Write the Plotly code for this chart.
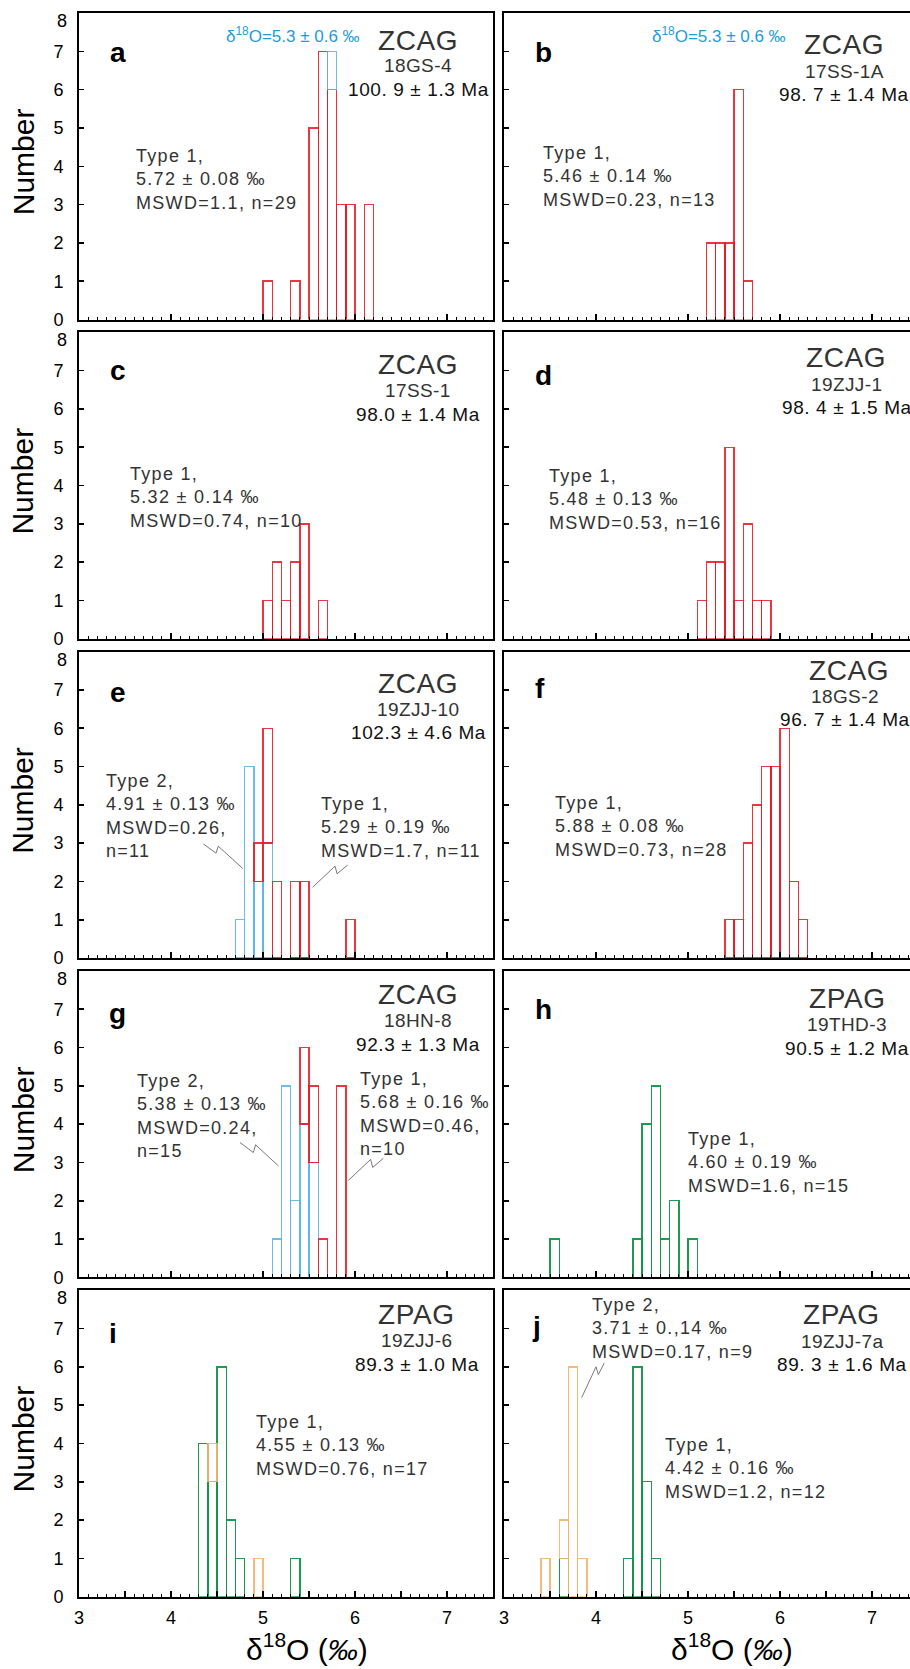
import plotly.graph_objects as go

# ---------------- data (bin start in per-mil, count per 0.1 bin) ----------------
A_T1_BINS = [5.0, 5.3, 5.5, 5.6, 5.7, 5.8, 5.9, 6.1]
A_T1_N = [1, 1, 5, 7, 6, 3, 3, 3]
A_X_BINS = [5.7]
A_X_N = [1]

B_T1_BINS = [5.2, 5.3, 5.4, 5.5, 5.6]
B_T1_N = [2, 2, 2, 6, 1]

C_T1_BINS = [5.0, 5.1, 5.2, 5.3, 5.4, 5.6]
C_T1_N = [1, 2, 1, 2, 3, 1]

D_T1_BINS = [5.1, 5.2, 5.3, 5.4, 5.5, 5.6, 5.7, 5.8]
D_T1_N = [1, 2, 2, 5, 1, 3, 1, 1]

E_T2_BINS = [4.7, 4.8, 4.9, 5.0]
E_T2_N = [1, 5, 2, 3]
E_T1_BINS = [4.9, 5.0, 5.1, 5.3, 5.4, 5.9]
E_T1_N = [1, 3, 2, 2, 2, 1]

F_T1_BINS = [5.4, 5.5, 5.6, 5.7, 5.8, 5.9, 6.0, 6.1, 6.2]
F_T1_N = [1, 1, 3, 4, 5, 5, 6, 2, 1]

G_T2_BINS = [5.1, 5.2, 5.3, 5.4, 5.5]
G_T2_N = [1, 5, 2, 4, 3]
G_T1_BINS = [5.4, 5.5, 5.6, 5.8]
G_T1_N = [2, 2, 1, 5]

H_T1_BINS = [3.5, 4.4, 4.5, 4.6, 4.7, 4.8, 5.0]
H_T1_N = [1, 1, 4, 5, 1, 2, 1]

I_T1_BINS = [4.3, 4.4, 4.5, 4.6, 4.7, 5.3]
I_T1_N = [4, 3, 6, 2, 1, 1]
I_T2_BINS = [4.4, 4.9]
I_T2_N = [1, 1]

J_T1_BINS = [3.6, 4.3, 4.4, 4.5, 4.6]
J_T1_N = [1, 1, 6, 3, 1]
J_T2_BINS = [3.4, 3.6, 3.7, 3.8]
J_T2_N = [1, 1, 6, 1]

BIN_W = 0.1
Y_TICKS = [0, 1, 2, 3, 4, 5, 6, 7, 8]
X_MAJOR = [3, 3.5, 4, 4.5, 5, 5.5, 6, 6.5, 7, 7.5]
X_LABELS = ["3", "", "4", "", "5", "", "6", "", "7", ""]

# ---------------- styles ----------------
RED = "rgba(232,26,36,0.88)"
BLUE = "rgba(92,182,234,0.9)"
GREEN = "rgba(18,150,72,0.95)"
ORANGE = "rgba(246,178,108,0.9)"
TXT = "#333333"
BLUE_TXT = "#1c9ce0"
FONT = "Arial, Liberation Sans, sans-serif"

W, H = 910, 1669
ML, MR, MT, MB = 79, 0, 13, 72
PW, PH = W - ML - MR, H - MT - MB
PITCH, PANEL_H = 319.3, 306.5
PX_PER_UNIT = 92.0
LEFT_COL = (79, 493)
RIGHT_COL = (504, 910)


def spaced(text, ls):
    return "<br>".join("<span style='letter-spacing:%spx'>%s</span>" % (ls, ln)
                       for ln in text.split("<br>"))


panels = [
    dict(letter="a", group="ZCAG", sample="18GS-4", age="100. 9 ± 1.3 Ma",
         series=[(A_T1_BINS, A_T1_N, RED), (A_X_BINS, A_X_N, BLUE)],
         let_pos=(3.42, 6.96), grp_pos=(6.685, 7.29), smp_pos=(6.69, 6.63), age_pos=(6.69, 6.0),
         blocks=[("Type 1,<br>5.72 ± 0.08 ‰<br>MSWD=1.1, n=29", 3.60, 3.65)],
         blue=(5.33, 7.43), leaders=[]),
    dict(letter="b", group="ZCAG", sample="17SS-1A", age="98. 7 ± 1.4 Ma",
         series=[(B_T1_BINS, B_T1_N, RED)],
         let_pos=(3.43, 6.96), grp_pos=(6.70, 7.17), smp_pos=(6.70, 6.48), age_pos=(6.70, 5.87),
         blocks=[("Type 1,<br>5.46 ± 0.14 ‰<br>MSWD=0.23, n=13", 3.40, 3.74)],
         blue=(5.34, 7.43), leaders=[]),
    dict(letter="c", group="ZCAG", sample="17SS-1", age="98.0 ± 1.4 Ma",
         series=[(C_T1_BINS, C_T1_N, RED)],
         let_pos=(3.42, 7.0), grp_pos=(6.685, 7.16), smp_pos=(6.685, 6.47), age_pos=(6.69, 5.86),
         blocks=[("Type 1,<br>5.32 ± 0.14 ‰<br>MSWD=0.74, n=10", 3.53, 3.68)],
         blue=None, leaders=[]),
    dict(letter="d", group="ZCAG", sample="19ZJJ-1", age="98. 4 ± 1.5 Ma",
         series=[(D_T1_BINS, D_T1_N, RED)],
         let_pos=(3.43, 6.86), grp_pos=(6.72, 7.33), smp_pos=(6.72, 6.64), age_pos=(6.73, 6.03),
         blocks=[("Type 1,<br>5.48 ± 0.13 ‰<br>MSWD=0.53, n=16", 3.47, 3.64)],
         blue=None, leaders=[]),
    dict(letter="e", group="ZCAG", sample="19ZJJ-10", age="102.3 ± 4.6 Ma",
         series=[(E_T2_BINS, E_T2_N, BLUE), (E_T1_BINS, E_T1_N, RED)],
         let_pos=(3.42, 6.94), grp_pos=(6.68, 7.18), smp_pos=(6.68, 6.50), age_pos=(6.69, 5.90),
         blocks=[("Type 2,<br>4.91 ± 0.13 ‰<br>MSWD=0.26,<br>n=11", 3.275, 3.72),
                 ("Type 1,<br>5.29 ± 0.19 ‰<br>MSWD=1.7, n=11", 5.61, 3.40)],
         blue=None,
         leaders=[[(4.351, 2.98), (4.489, 2.74), (4.514, 2.92), (4.779, 2.34)],
                  [(5.920, 2.43), (5.805, 2.20), (5.783, 2.40), (5.540, 1.85)]]),
    dict(letter="f", group="ZCAG", sample="18GS-2", age="96. 7 ± 1.4 Ma",
         series=[(F_T1_BINS, F_T1_N, RED)],
         let_pos=(3.39, 7.03), grp_pos=(6.75, 7.50), smp_pos=(6.71, 6.84), age_pos=(6.71, 6.22),
         blocks=[("Type 1,<br>5.88 ± 0.08 ‰<br>MSWD=0.73, n=28", 3.53, 3.44)],
         blue=None, leaders=[]),
    dict(letter="g", group="ZCAG", sample="18HN-8", age="92.3 ± 1.3 Ma",
         series=[(G_T2_BINS, G_T2_N, BLUE), (G_T1_BINS, G_T1_N, RED)],
         let_pos=(3.42, 6.90), grp_pos=(6.68, 7.39), smp_pos=(6.68, 6.70), age_pos=(6.68, 6.09),
         blocks=[("Type 2,<br>5.38 ± 0.13 ‰<br>MSWD=0.24,<br>n=15", 3.61, 4.20),
                 ("Type 1,<br>5.68 ± 0.16 ‰<br>MSWD=0.46,<br>n=10", 6.03, 4.26)],
         blue=None,
         leaders=[[(4.750, 3.52), (4.895, 3.26), (4.920, 3.46), (5.167, 2.91)],
                  [(6.308, 3.11), (6.192, 2.87), (6.170, 3.08), (5.927, 2.53)]]),
    dict(letter="h", group="ZPAG", sample="19THD-3", age="90.5 ± 1.2 Ma",
         series=[(H_T1_BINS, H_T1_N, GREEN)],
         let_pos=(3.43, 6.98), grp_pos=(6.73, 7.27), smp_pos=(6.73, 6.59), age_pos=(6.73, 5.98),
         blocks=[("Type 1,<br>4.60 ± 0.19 ‰<br>MSWD=1.6, n=15", 4.975, 3.0)],
         blue=None, leaders=[]),
    dict(letter="i", group="ZPAG", sample="19ZJJ-6", age="89.3 ± 1.0 Ma",
         series=[(I_T1_BINS, I_T1_N, GREEN), (I_T2_BINS, I_T2_N, ORANGE)],
         let_pos=(3.37, 6.87), grp_pos=(6.67, 7.37), smp_pos=(6.67, 6.69), age_pos=(6.67, 6.07),
         blocks=[("Type 1,<br>4.55 ± 0.13 ‰<br>MSWD=0.76, n=17", 4.90, 3.95)],
         blue=None, leaders=[]),
    dict(letter="j", group="ZPAG", sample="19ZJJ-7a", age="89. 3 ± 1.6 Ma",
         series=[(J_T1_BINS, J_T1_N, GREEN), (J_T2_BINS, J_T2_N, ORANGE)],
         let_pos=(3.355, 7.04), grp_pos=(6.67, 7.37), smp_pos=(6.67, 6.67), age_pos=(6.67, 6.06),
         blocks=[("Type 2,<br>3.71 ± 0.,14 ‰<br>MSWD=0.17, n=9", 3.935, 7.0),
                 ("Type 1,<br>4.42 ± 0.16 ‰<br>MSWD=1.2, n=12", 4.73, 3.34)],
         blue=None,
         leaders=[[(4.090, 6.10), (4.025, 5.80), (4.000, 6.00), (3.845, 5.20)]]),
]

fig = go.Figure()
layout = dict(
    width=W, height=H, margin=dict(l=ML, r=MR, t=MT, b=MB, pad=0),
    paper_bgcolor="white", plot_bgcolor="white", showlegend=False,
    barmode="stack", font=dict(family=FONT, color="black", size=18),
)
annotations = []
shapes = []

for p, pan in enumerate(panels):
    r, c = divmod(p, 2)
    sfx = "" if p == 0 else str(p + 1)
    xid, yid = "x" + sfx, "y" + sfx
    top = MT + r * PITCH
    bot = top + PANEL_H
    ydom = [max(0.0, 1 - (bot - MT) / PH), min(1.0, 1 - (top - MT) / PH)]
    col = LEFT_COL if c == 0 else RIGHT_COL
    xdom = [(col[0] - ML) / PW, min(1.0, (col[1] - ML) / PW)]
    xmax = 3 + (col[1] - col[0]) / PX_PER_UNIT
    bottom_row = (r == 4)

    layout["xaxis" + sfx] = dict(
        domain=xdom, anchor=yid, range=[3, xmax], showgrid=False, zeroline=False,
        showline=True, linecolor="black", linewidth=2, mirror=True,
        ticks="inside", ticklen=6, tickwidth=1.5, tickcolor="black",
        tickmode="array", tickvals=X_MAJOR, ticktext=X_LABELS,
        minor=dict(dtick=0.1, tick0=3, ticks="inside", ticklen=3, tickwidth=1,
                   tickcolor="black", showgrid=False),
        showticklabels=bottom_row,
        tickfont=dict(size=18, color="black", family=FONT),
        ticklabelstandoff=4, automargin=False,
    )
    layout["yaxis" + sfx] = dict(
        domain=ydom, anchor=xid, range=[0, 8], showgrid=False, zeroline=False,
        showline=True, linecolor="black", linewidth=2, mirror=(c == 0),
        ticks="inside", ticklen=5, tickwidth=1.5, tickcolor="black",
        tickmode="array", tickvals=Y_TICKS,
        ticktext=[("" if v == Y_TICKS[-1] else str(v)) for v in Y_TICKS],
        showticklabels=(c == 0), tickfont=dict(size=18, color="black", family=FONT),
        ticklabelstandoff=10, automargin=False,
    )

    for bins, counts, colr in pan["series"]:
        fig.add_trace(go.Bar(
            x=[round(b + BIN_W / 2, 3) for b in bins], y=counts, width=BIN_W,
            marker=dict(color="rgba(255,255,255,0)", line=dict(color=colr, width=1.4)),
            xaxis=xid, yaxis=yid, hoverinfo="skip",
        ))

    def ann(text, x, y, size, color=TXT, xanchor="center", bold=False, align="center", ls=0):
        t = ("<b>%s</b>" % text) if bold else text
        if ls:
            t = spaced(t, ls)
        annotations.append(dict(
            text=t, x=x, y=y, xref=xid, yref=yid,
            xanchor=xanchor, yanchor="middle", showarrow=False, align=align,
            font=dict(family=FONT, size=size, color=color),
        ))

    ann(pan["letter"], *pan["let_pos"], 28, color="black", bold=True)
    ann(pan["group"], *pan["grp_pos"], 28, ls=0.6)
    ann(pan["sample"], *pan["smp_pos"], 19, ls=0.4)
    ann(pan["age"], *pan["age_pos"], 19, color="#111111", ls=0.6)
    for text, bx, by in pan["blocks"]:
        ann(text, bx, by, 18, xanchor="left", align="left", ls=1.3)
    if pan["blue"]:
        ann("δ<sup>18</sup>O=5.3 ± 0.6 ‰", *pan["blue"], 17, color=BLUE_TXT)
    for pts in pan["leaders"]:
        path = "M " + " L ".join("%g %g" % pt for pt in pts)
        shapes.append(dict(type="path", path=path, xref=xid, yref=yid,
                           line=dict(color="#555555", width=0.8)))

    if c == 0:
        # top "8" tick label, drawn a little below the frame as in the original
        annotations.append(dict(
            text=str(Y_TICKS[-1]), x=3, y=7.79, xref=xid, yref=yid, xanchor="right",
            yanchor="middle", xshift=-10, showarrow=False,
            font=dict(family=FONT, size=18, color="black"),
        ))
        yc = (top + bot) / 2 - 4
        annotations.append(dict(
            text="Number", x=(23 - ML) / PW, y=1 - (yc - MT) / PH, xref="paper", yref="paper",
            xanchor="center", yanchor="middle", textangle=-90, showarrow=False,
            font=dict(family=FONT, size=30, color="black"),
        ))
    if bottom_row:
        xc = col[0] + 227.7
        annotations.append(dict(
            text="δ<sup>18</sup>O (<i>‰</i>)", x=(xc - ML) / PW, y=1 - (1668 - MT) / PH,
            xref="paper", yref="paper", xanchor="center", yanchor="bottom", showarrow=False,
            font=dict(family=FONT, size=30, color="black"),
        ))

layout["annotations"] = annotations
layout["shapes"] = shapes
fig.update_layout(**layout)
fig.write_html(
    "out.html",
    config={"displayModeBar": False, "staticPlot": True},
    post_script="document.body.style.margin='0';document.body.style.overflow='hidden';",
)
